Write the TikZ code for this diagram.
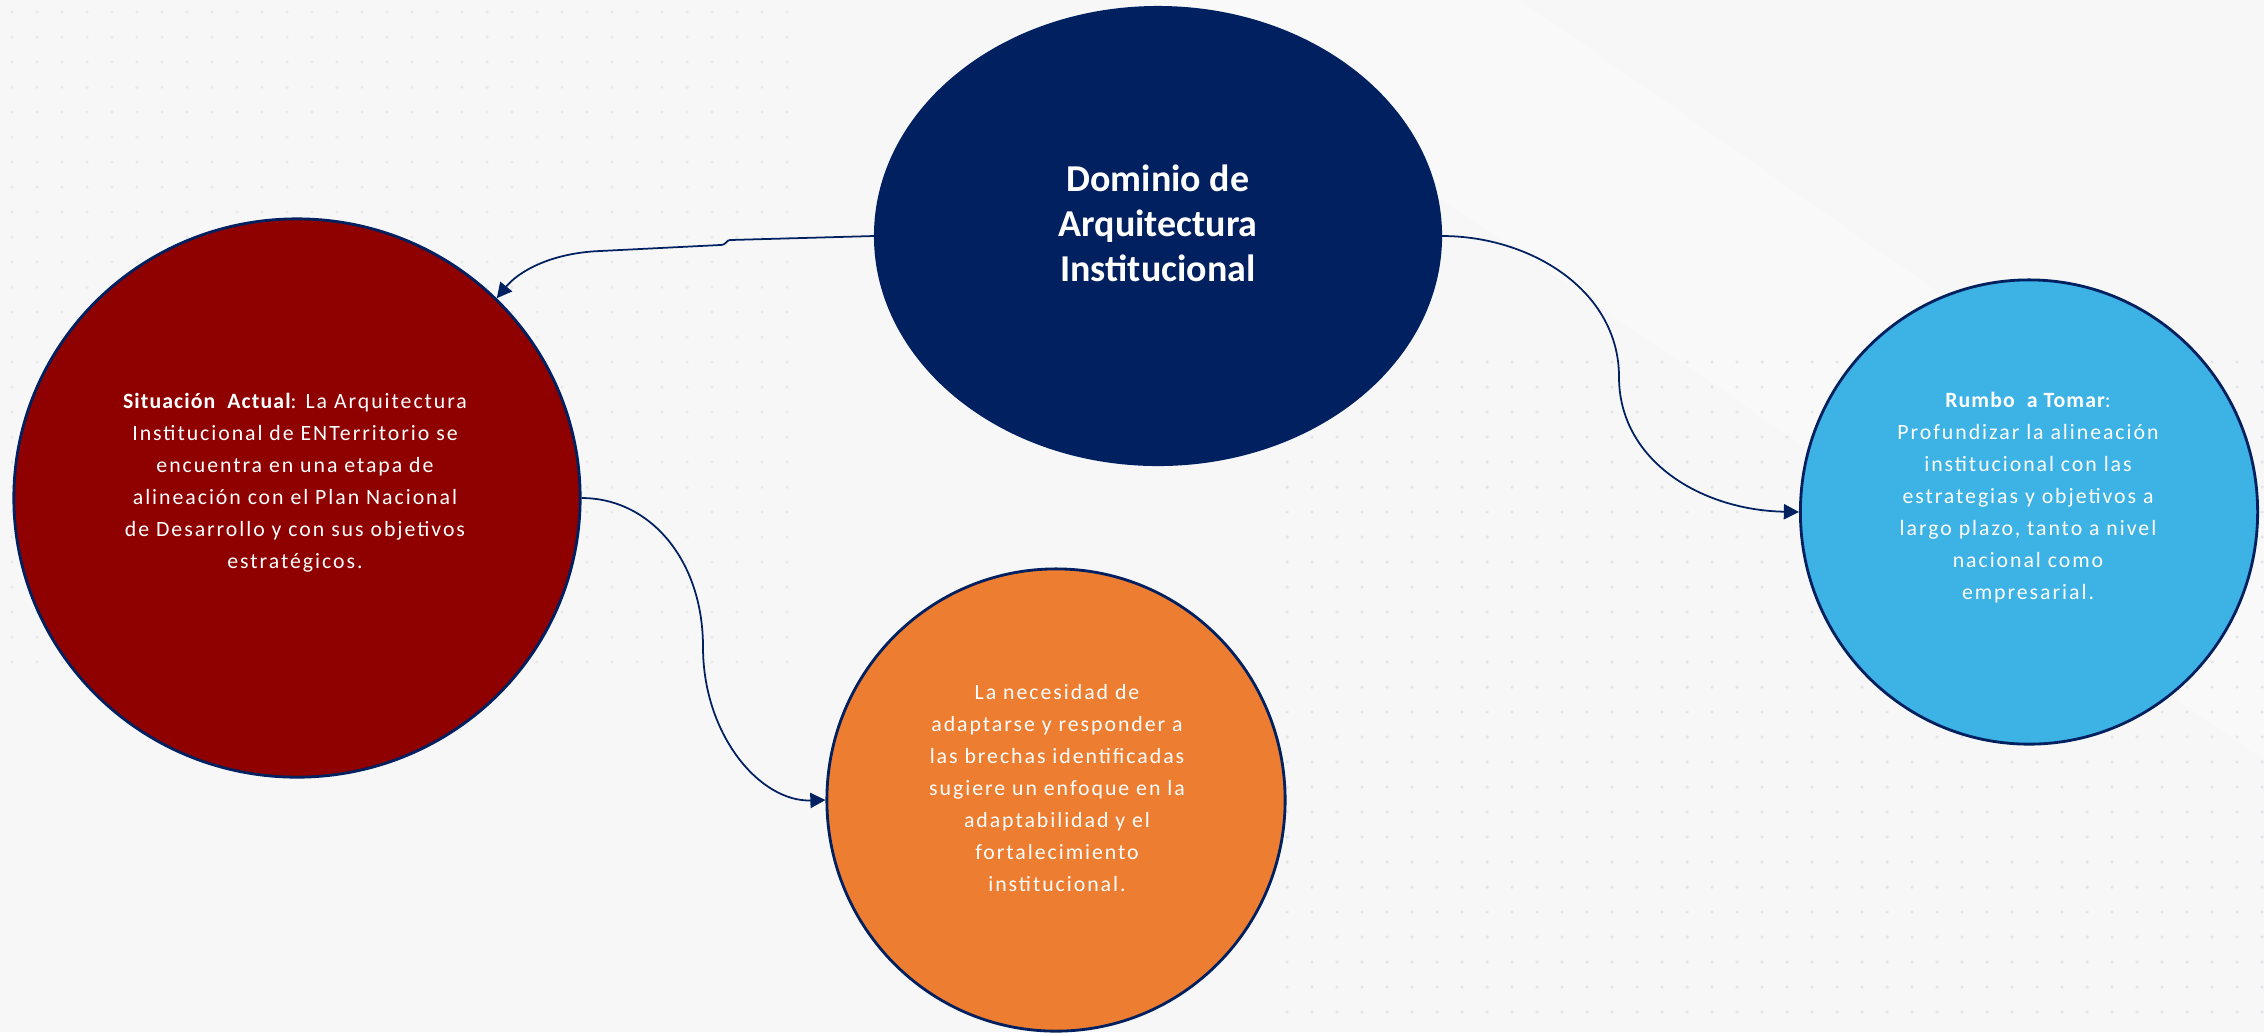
\documentclass[tikz,border=0pt]{standalone}
\usepackage{fontspec}
\setmainfont{Carlito}
\newfontfamily\spaced[LetterSpace=9]{Carlito}
\newfontfamily\spacedb[LetterSpace=5]{Carlito}
\usetikzlibrary{shapes.geometric,arrows.meta}
\definecolor{navy}{RGB}{0,32,96}
\definecolor{dred}{RGB}{143,0,0}
\definecolor{orng}{RGB}{237,125,49}
\definecolor{lblue}{RGB}{61,178,229}
\definecolor{bgc}{RGB}{247,247,248}
\definecolor{dotc}{RGB}{233,233,235}
\definecolor{dotd}{RGB}{229,229,232}
\newcommand{\hb}[1]{{\spacedb\bfseries #1}}
\begin{document}
\begin{tikzpicture}[x=0.01cm,y=-0.01cm,
  bubble/.style={ellipse, draw=navy, line width=0.8pt, inner sep=0pt},
  txt/.style={text=white, align=center, font=\spaced\fontsize{6.2}{9.1}\selectfont, inner sep=0pt},
  ttl/.style={text=white, align=center, font=\fontsize{10.8}{12.8}\selectfont\bfseries, inner sep=0pt},
  conn/.style={draw=navy, line width=0.5pt, -{Triangle[length=4.3pt,width=4.3pt]}}]
\fill[bgc] (0,0) rectangle (2264,1032);
\useasboundingbox (0,0) rectangle (2264,1032);
% subtle light bands
\fill[white,opacity=0.3] (1150,0) -- (1520,0) -- (2264,520) -- (2264,760) -- cycle;
\fill[gray!6,opacity=0.5] (2080,0) -- (2264,0) -- (2264,150) -- cycle;
% dot grids
\foreach \i in {0,...,31}{\foreach \j in {0,...,26}{\fill[dotc] (12+25*\i,12+25*\j) circle (0.5pt);}}
\foreach \i in {0,...,39}{\foreach \j in {0,...,26}{\fill[dotd] (1287+25*\i,362+25*\j) circle (0.5pt);}}
% bubbles
\node[bubble, fill=navy, minimum width=5.65cm, minimum height=4.57cm] (nav) at (1158,236) {};
\node[bubble, fill=dred, minimum width=5.66cm, minimum height=5.58cm] (red) at (297,498) {};
\node[bubble, fill=orng, minimum width=4.58cm, minimum height=4.62cm] (org) at (1056,800) {};
\node[bubble, fill=lblue, minimum width=4.57cm, minimum height=4.64cm] (blu) at (2029,512) {};
% texts
\node[ttl] (navt) at (1158,223) {Dominio de\\Arquitectura\\Institucional};
\node[txt] (redt) at (295,483) {\hb{Situación\ \ Actual}: La Arquitectura\\Institucional de ENTerritorio se\\encuentra en una etapa de\\alineación con el Plan Nacional\\de Desarrollo y con sus objetivos\\estratégicos.};
\node[txt] (orgt) at (1057,788) {La necesidad de\\adaptarse y responder a\\las brechas identificadas\\sugiere un enfoque en la\\adaptabilidad y el\\fortalecimiento\\institucional.};
\node[txt] (blut) at (2028,498) {\hb{Rumbo\ \ a Tomar}:\\Profundizar la alineación\\institucional con las\\estrategias y objetivos a\\largo plazo, tanto a nivel\\nacional como\\empresarial.};
% connectors
\draw[conn] (nav.west) -- (730,240) .. controls (726,240) and (727,245) .. (720,245) -- (600,251) .. controls (550,253) and (518,272) .. (red.45);
\draw[conn] (red.east) .. controls (650,498) and (703,560) .. (703,647) .. controls (703,735) and (760,802) .. (org.west);
\draw[conn] (nav.east) .. controls (1530,236) and (1619,290) .. (1619,377) .. controls (1619,460) and (1700,510) .. (blu.west);
\end{tikzpicture}
\end{document}
